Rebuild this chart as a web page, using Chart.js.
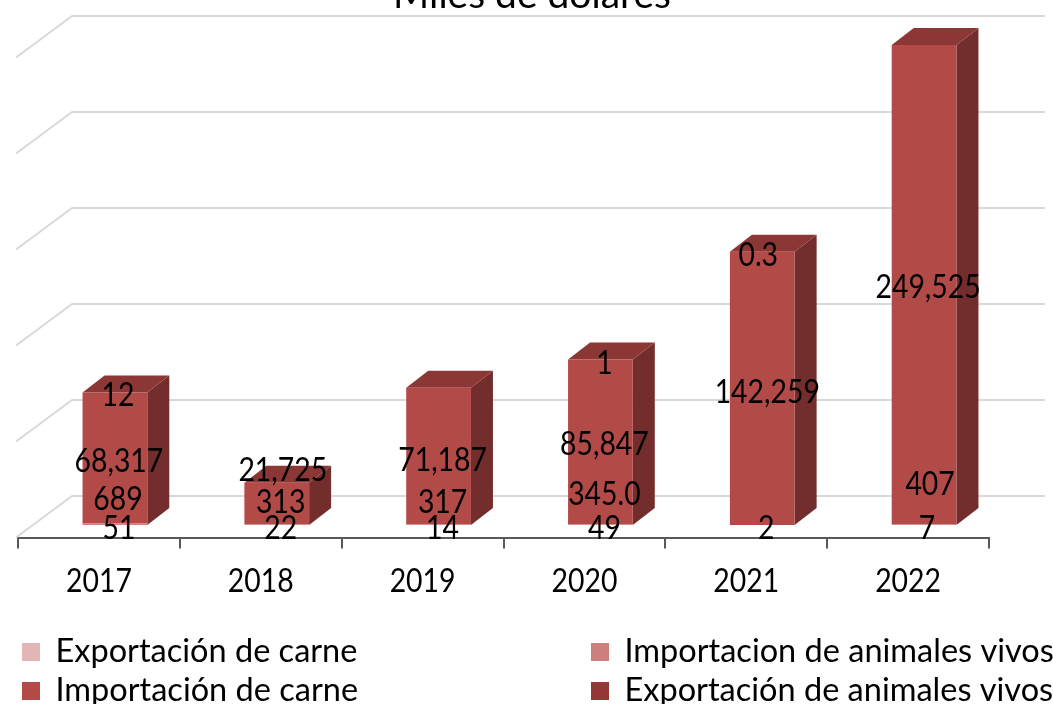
<!DOCTYPE html>
<html><head><meta charset="utf-8">
<style>html,body{margin:0;padding:0;background:#fff;overflow:hidden}canvas{display:block}</style>
<script src="https://cdn.jsdelivr.net/npm/chart.js@4"></script></head>
<body><canvas id="c" width="1053" height="704"></canvas>
<script>
const categories = ['2017','2018','2019','2020','2021','2022'];
const exportCarne = [51,22,14,49,2,7];
const importAnimales = [689,313,317,345,null,407];
const importCarne = [68317,21725,71187,85847,142259,249525];
const exportAnimales = [12,null,null,1,0.3,null];
const seriesNames = ['Exportación de carne','Importacion de animales vivos','Importación de carne','Exportación de animales vivos'];
const seriesColors = ['#e3b7b6','#cd7f7d','#b24a47','#953735'];
const labelExportCarne = ['51','22','14','49','2','7'];
const labelImportAnimales = ['689','313','317','345.0','','407'];
const labelImportCarne = ['68,317','21,725','71,187','85,847','142,259','249,525'];
const labelExportAnimales = ['12','','','1','0.3',''];
const yTicks = [0,50000,100000,150000,200000,250000];
const titleText = 'Miles de dólares';
// label nudges (pixels from the segment centre)
const nudgeY = [[3,3,3,3,3,3],[-25,-22,-22,-30,0,-40],[3,-33,4,3,4,3],[3,0,0,4,4,0]];
const nudgeX = [[4,4,4,4,4,3],[3,4,4,4,0,6],[4,6,4,4,5,4],[3,0,0,4,-4,0]];

const FONT='Lato';
const BAR_DX=16,BAR_DY=-12.5,SIDE_DX=22,SIDE_DY=17,BACK_DX=54,BACK_DY=41.5;

const look3d={id:'look3d',
 beforeDatasetsDraw(chart){
  const {ctx,scales:{x,y}}=chart;
  ctx.save();ctx.strokeStyle='#d9d9d9';ctx.lineWidth=2;ctx.lineJoin='round';
  yTicks.forEach(v=>{const p=y.getPixelForValue(v);
   ctx.beginPath();ctx.moveTo(x.left-2,p);ctx.lineTo(x.left+BACK_DX,p-BACK_DY);ctx.lineTo(x.right+BACK_DX+2,p-BACK_DY);ctx.stroke();});
  const main=chart.getDatasetMeta(2).data;
  main.forEach((b,i)=>{
   let top=b.y;
   chart.data.datasets.forEach((d,k)=>{if(d.data[i]!=null){top=Math.min(top,chart.getDatasetMeta(k).data[i].y);}});
   const base=y.getPixelForValue(0)+BAR_DY,t=top+BAR_DY,l=b.x-b.width/2+BAR_DX,r=b.x+b.width/2+BAR_DX;
   ctx.fillStyle='#722d2c';ctx.beginPath();ctx.moveTo(r,base);ctx.lineTo(r+SIDE_DX,base-SIDE_DY);ctx.lineTo(r+SIDE_DX,t-SIDE_DY);ctx.lineTo(r,t);ctx.closePath();ctx.fill();
   ctx.fillStyle='#8a3735';ctx.beginPath();ctx.moveTo(l,t);ctx.lineTo(l+SIDE_DX,t-SIDE_DY);ctx.lineTo(r+SIDE_DX,t-SIDE_DY);ctx.lineTo(r,t);ctx.closePath();ctx.fill();
  });
  ctx.restore();
 },
 beforeDatasetDraw(chart){chart.ctx.save();chart.ctx.translate(BAR_DX,BAR_DY);},
 afterDatasetDraw(chart){chart.ctx.restore();},
 afterDatasetsDraw(chart){
  const {ctx,scales:{x}}=chart;const texts=[labelExportCarne,labelImportAnimales,labelImportCarne,labelExportAnimales];
  ctx.save();ctx.fillStyle='#000';ctx.textAlign='center';ctx.textBaseline='middle';
  ctx.font=`400 33px ${FONT}`;
  texts.forEach((arr,k)=>{const m=chart.getDatasetMeta(k).data;arr.forEach((s,i)=>{if(!s)return;const b=m[i];
    ctx.save();ctx.translate(b.x+BAR_DX+nudgeX[k][i],(b.y+b.base)/2+BAR_DY+nudgeY[k][i]);ctx.scale(0.86,1);ctx.fillText(s,0,0);ctx.restore();});});
  // category labels of the x scale, condensed as in the reference
  x.ticks.forEach((t,i)=>{ctx.save();ctx.translate(x.getPixelForTick(i),581);ctx.scale(0.86,1);ctx.fillText(x.getLabelForValue(t.value),0,0);ctx.restore();});
  // legend
  const slots=[[22,652],[591,652],[22,691],[591,691]];
  ctx.font=`400 32.5px ${FONT}`;
  [0,1,2,3].forEach(k=>{const [lx,ly]=slots[k];ctx.fillStyle=seriesColors[k];ctx.fillRect(lx,ly-9,18,18);
    ctx.fillStyle='#000';ctx.textAlign='left';ctx.fillText(seriesNames[k],lx+33.5,ly);});
  // title
  ctx.font=`400 39px ${FONT}`;ctx.textAlign='center';ctx.textBaseline='alphabetic';
  ctx.fillText(titleText,532,8);
  ctx.restore();
 }};

new Chart(document.getElementById('c'),{
 type:'bar',
 data:{labels:categories,datasets:[exportCarne,importAnimales,importCarne,exportAnimales].map((d,k)=>({label:seriesNames[k],data:d,backgroundColor:seriesColors[k],borderWidth:0}))},
 options:{responsive:false,animation:false,
  layout:{padding:{left:18,right:64,top:57.5,bottom:0}},
  datasets:{bar:{barPercentage:0.4,categoryPercentage:1,clip:false}},
  plugins:{legend:{display:false},tooltip:{enabled:false},title:{display:false}},
  scales:{
   x:{stacked:true,afterFit(s){s.height=166.5;},
    grid:{drawOnChartArea:false,drawTicks:true,tickLength:11,color:'#595959',lineWidth:2},
    border:{color:'#595959',width:2},
    ticks:{display:false}},
   y:{stacked:true,display:false,min:0,max:250000,ticks:{stepSize:50000}}
  }},
 plugins:[look3d]});
</script></body></html>
